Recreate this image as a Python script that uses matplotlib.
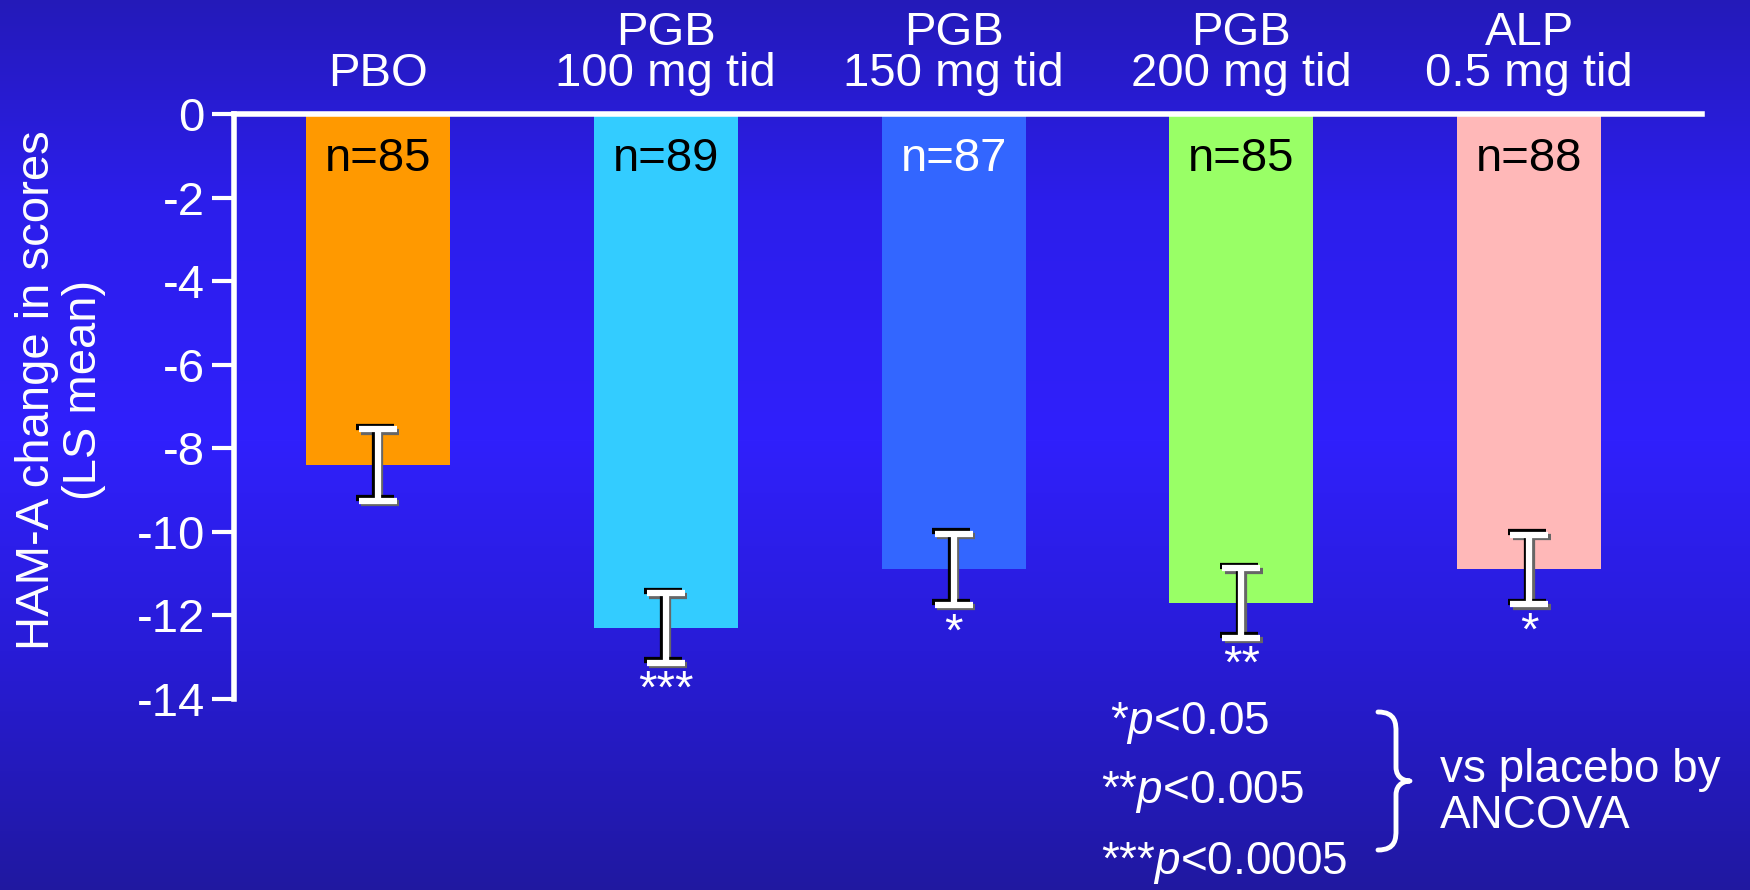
import numpy as np
import matplotlib
matplotlib.use('Agg')
from matplotlib import pyplot as plt
from matplotlib import transforms
from matplotlib.path import Path
from matplotlib.patches import PathPatch

plt.rcParams['font.family'] = ['Liberation Sans', 'DejaVu Sans']
plt.rcParams['mathtext.fontset'] = 'custom'
plt.rcParams['mathtext.rm'] = 'Liberation Sans'
plt.rcParams['mathtext.it'] = 'Liberation Sans:italic'

# data
groups = ['PBO', 'PGB\n100 mg tid', 'PGB\n150 mg tid', 'PGB\n200 mg tid', 'ALP\n0.5 mg tid']
means = [-8.4, -12.3, -10.9, -11.7, -10.9]
errs = [0.85, 0.83, 0.85, 0.83, 0.83]
n_labels = ['n=85', 'n=89', 'n=87', 'n=85', 'n=88']
n_colors = ['black', 'black', 'white', 'black', 'black']
stars = ['', '***', '*', '**', '*']
bar_colors = ['#FF9900', '#33CCFF', '#3366FF', '#99FF66', '#FFB8B8']
yticks = [0, -2, -4, -6, -8, -10, -12, -14]
legend_lines = ['*$\\mathit{p}$<0.05', '**$\\mathit{p}$<0.005', '***$\\mathit{p}$<0.0005']

fig = plt.figure(figsize=(17.5, 8.9), dpi=100)

# background gradient
bg = fig.add_axes([0, 0, 1, 1], zorder=-10)
stops_y = [0, 200, 440, 650, 890]
stops_c = np.array([[36, 26, 185], [44, 30, 235], [48, 32, 252], [40, 28, 215], [32, 24, 160]]) / 255.0
yy = np.arange(890)
grad = np.stack([np.interp(yy, stops_y, stops_c[:, k]) for k in range(3)], axis=1)
bg.imshow(grad[:, None, :], aspect='auto', extent=[0, 1, 0, 1], origin='upper')
bg.axis('off')

ax = fig.add_axes([234 / 1750, 1 - 699 / 890, (1702 - 234) / 1750, (699 - 114) / 890])
ax.patch.set_alpha(0)
x = np.arange(len(groups))
ax.bar(x, means, width=0.5, color=bar_colors, zorder=2)
ax.set_xlim(-0.5, 4.6)
ax.set_ylim(-14, 0)

# error bars: gray shadow, black edge, white face
def px(dx, dy):
    return transforms.offset_copy(ax.transData, fig=fig, x=dx * 0.72, y=dy * 0.72, units='points')

for dx, dy, col in [(2.5, -2.5, '#666666'), (-2.5, 2.5, 'black'), (0, 0, 'white')]:
    ax.errorbar(x, means, yerr=errs, fmt='none', ecolor=col, elinewidth=4.5,
                capsize=14, capthick=4.5, transform=px(dx, dy), zorder=3)

for i in range(len(groups)):
    ax.text(x[i], -1.08, n_labels[i], ha='center', va='center', fontsize=34, color=n_colors[i], zorder=4)
    if stars[i]:
        ax.text(x[i], means[i] - errs[i] - 0.15, stars[i], ha='center', va='top', fontsize=34,
                color='white', zorder=4)
    ax.text(x[i], 0.42, groups[i], ha='center', va='bottom', fontsize=34, color='white',
            linespacing=0.92)

ax.set_yticks(yticks)
ax.set_yticklabels([str(t) for t in yticks])
ax.tick_params(axis='y', colors='white', labelsize=34, length=16, width=3, pad=5)
ax.set_xticks([])
for s in ['right', 'bottom']:
    ax.spines[s].set_visible(False)
ax.spines['left'].set_color('white')
ax.spines['left'].set_linewidth(4)
ax.spines['top'].set_color('white')
ax.spines['top'].set_linewidth(4)

fig.text(0.0345, 1 - 390 / 890, 'HAM-A change in scores\n(LS mean)', rotation=90, ha='center',
         va='center', fontsize=34, color='white', linespacing=1.1, multialignment='center')

# p-value key
leg_x = [1110, 1101, 1101]
leg_y = [723, 792, 863]
for t, lx, ly in zip(legend_lines, leg_x, leg_y):
    fig.text(lx / 1750, 1 - ly / 890, t, ha='left', va='center', fontsize=33, color='white')

# curly brace
def fx(v):
    return v / 1750
def fy(v):
    return 1 - v / 890
bx0, bx1, bx2 = 1378, 1396, 1410
top, mid, bot = 712, 781, 850
verts = [(bx0, top), (bx1, top), (bx1, top + 12), (bx1, top + 20),
         (bx1, mid - 14),
         (bx1, mid - 2), (bx2 - 4, mid), (bx2, mid),
         (bx2 - 4, mid), (bx1, mid + 2), (bx1, mid + 14),
         (bx1, bot - 20),
         (bx1, bot - 12), (bx1, bot), (bx0, bot)]
codes = [Path.MOVETO, Path.CURVE4, Path.CURVE4, Path.CURVE4,
         Path.LINETO,
         Path.CURVE4, Path.CURVE4, Path.CURVE4,
         Path.CURVE4, Path.CURVE4, Path.CURVE4,
         Path.LINETO,
         Path.CURVE4, Path.CURVE4, Path.CURVE4]
brace = Path([(fx(a), fy(b)) for a, b in verts], codes)
fig.patches.append(PathPatch(brace, transform=fig.transFigure, fill=False, edgecolor='white',
                             lw=3.5, capstyle='round', joinstyle='round'))

fig.text(1440 / 1750, 1 - 793 / 890, 'vs placebo by\nANCOVA', ha='left', va='center', fontsize=33,
         color='white', linespacing=1.05)

fig.savefig('out.png', dpi=100)
